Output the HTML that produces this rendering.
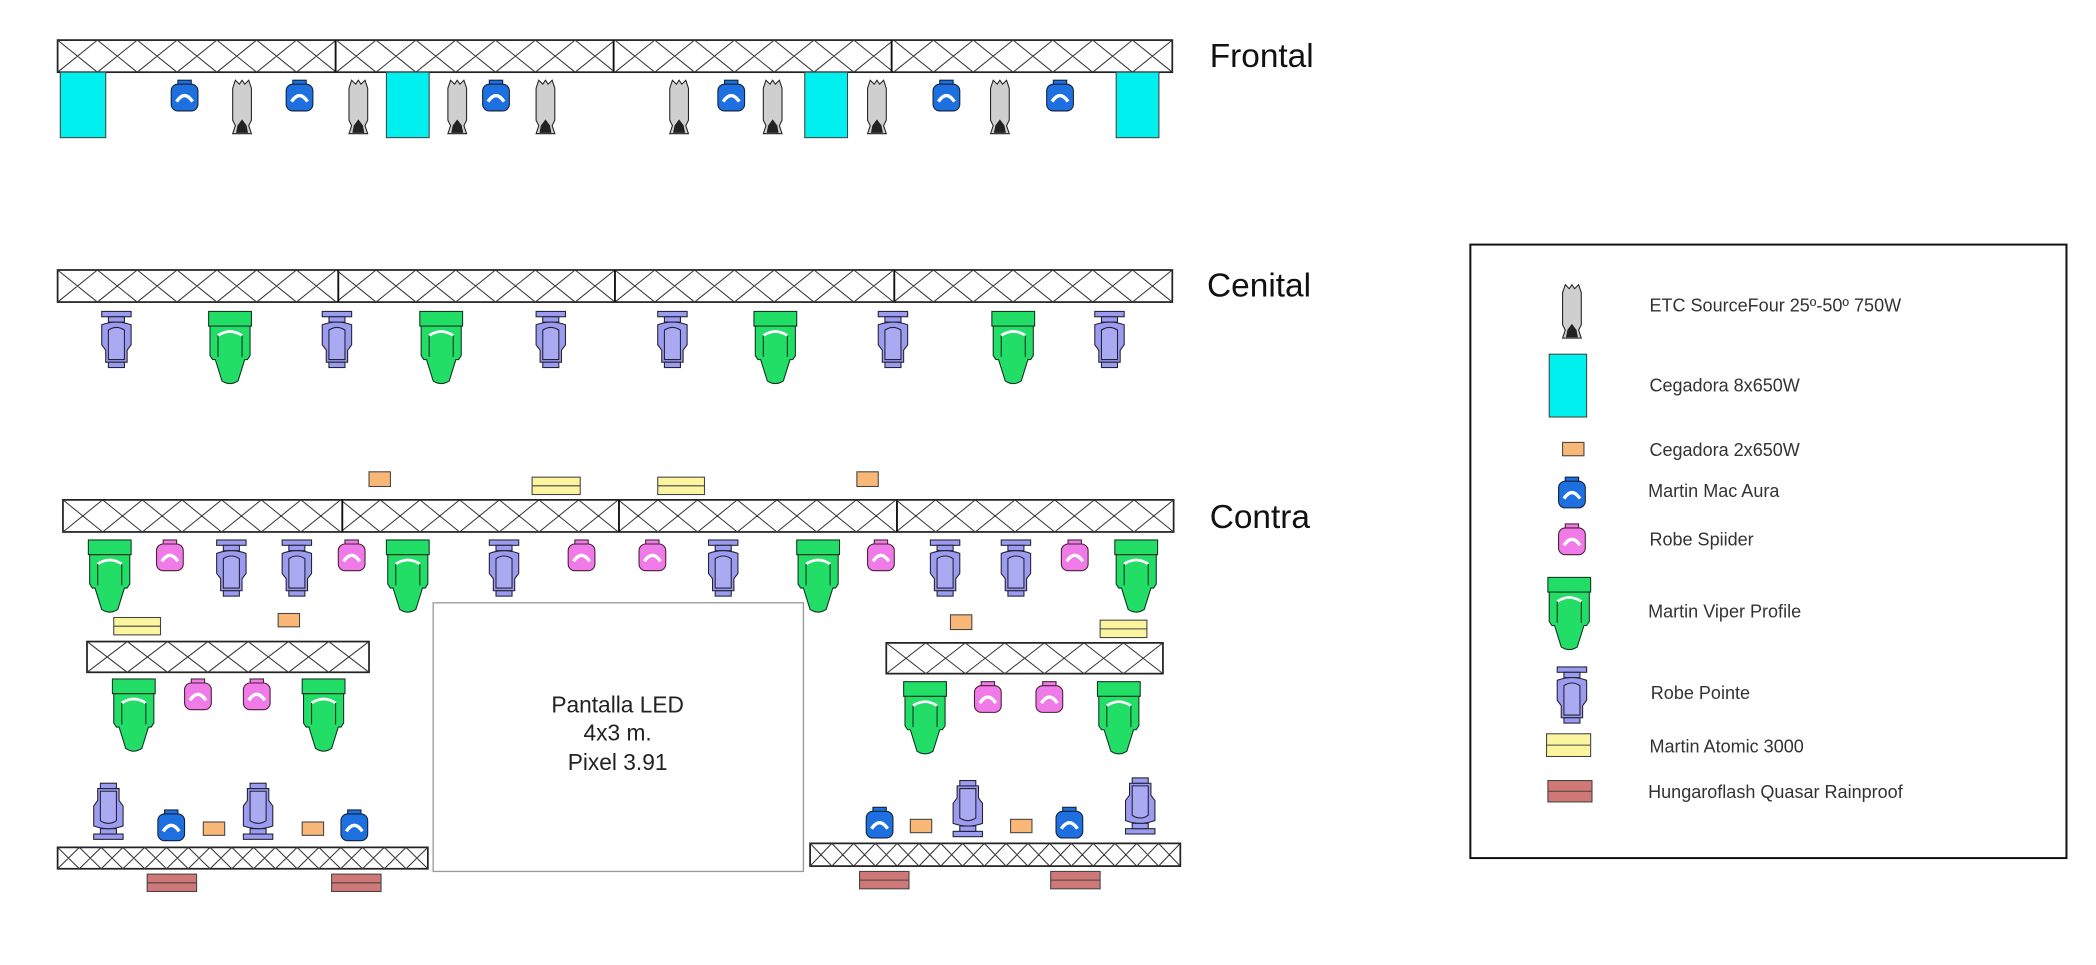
<!DOCTYPE html>
<html><head><meta charset="utf-8"><style>
html,body{margin:0;padding:0;background:#fff;width:2096px;height:965px;overflow:hidden}
svg{display:block}
text{font-family:"Liberation Sans",sans-serif}
</style></head><body>
<svg id="s" width="2096" height="965" viewBox="0 0 1568 722" xmlns="http://www.w3.org/2000/svg">
<defs>
<g id="aura"><rect x="-5" y="0" width="10" height="4" fill="#1e6fe0" stroke="#123" stroke-width="0.8"/><rect x="-10" y="3" width="20" height="20" rx="5" fill="#1e6fe0" stroke="#123" stroke-width="0.8"/><path d="M-6,16 Q0,7 6,16" fill="none" stroke="#fff" stroke-width="2.5"/></g>
<g id="spider"><rect x="-5" y="0" width="10" height="4" fill="#f07ae8" stroke="#423" stroke-width="0.8"/><rect x="-10" y="3" width="20" height="20" rx="5" fill="#f07ae8" stroke="#423" stroke-width="0.8"/><path d="M-6,16 Q0,7 6,16" fill="none" stroke="#fff" stroke-width="2.5"/></g>
<g id="pointe" stroke="#223" stroke-width="0.8" fill="#9b9bef"><rect x="-11" y="0" width="22" height="4"/><rect x="-6" y="4" width="12" height="4"/><path d="M-11,10 Q0,6 11,10 V25 L8,29 V38 H-8 V29 L-11,25 Z"/><path d="M-6,14 Q0,10 6,14 V36 H-6 Z" fill="#aaaaf3"/><rect x="-6" y="38" width="12" height="4"/></g>
<g id="viper" stroke="#132" stroke-width="0.8" fill="#22dd66"><rect x="-16" y="0" width="32" height="11"/><path d="M-15,11 H15 V33 L13,36 H11 L6,52 Q0,56 -6,52 L-11,36 H-13 L-15,33 Z"/><path d="M-9,18 Q0,12 9,18" fill="none" stroke="#fff" stroke-width="2"/><path d="M-9,18 V34 M9,18 V34" stroke="#132" stroke-width="0.8"/></g>
<g id="etc" stroke="#222" stroke-width="0.8" fill="#cfcfcf"><path d="M-5,0 L-2,3 L0,0 L2,3 L5,0 L7,6 V30 L5,34 L7,40 H-7 L-5,34 L-7,30 V6 Z"/><path d="M-3,34 L0,30 L3,34 L4,39 H-4 Z" fill="#222"/></g>
</defs>
<g id="g"></g>
<text x="905" y="50" font-size="25" fill="#111">Frontal</text>
<text x="903" y="222" font-size="25" fill="#111">Cenital</text>
<text x="905" y="395" font-size="25" fill="#111">Contra</text>
<rect x="324" y="451" width="277" height="201" fill="none" stroke="#999" stroke-width="1"/>
<text x="462" y="533" font-size="17" text-anchor="middle" fill="#222">Pantalla LED</text>
<text x="462" y="554" font-size="17" text-anchor="middle" fill="#222">4x3 m.</text>
<text x="462" y="576" font-size="17" text-anchor="middle" fill="#222">Pixel 3.91</text>
<rect x="1100" y="183" width="446" height="459" fill="none" stroke="#111" stroke-width="1.5"/>
<g font-size="13.5" fill="#333">
<text x="1234" y="233">ETC SourceFour 25º-50º 750W</text>
<text x="1234" y="293">Cegadora 8x650W</text>
<text x="1234" y="341">Cegadora 2x650W</text>
<text x="1233" y="372">Martin Mac Aura</text>
<text x="1234" y="408">Robe Spiider</text>
<text x="1233" y="462">Martin Viper Profile</text>
<text x="1235" y="523">Robe Pointe</text>
<text x="1234" y="563">Martin Atomic 3000</text>
<text x="1233" y="597">Hungaroflash Quasar Rainproof</text>
</g>
</svg>
<script>
var G=document.getElementById('g'),NS='http://www.w3.org/2000/svg';
function el(t,a){var e=document.createElementNS(NS,t);for(var k in a)e.setAttribute(k,a[k]);G.appendChild(e);return e;}
function truss(x,y,w,h,cell,divs){var n=Math.round(w/cell),c=w/n,d='';
for(var i=0;i<n;i++){var a=x+i*c;d+='M'+a+','+y+'L'+(a+c)+','+(y+h)+'M'+(a+c)+','+y+'L'+a+','+(y+h);}
el('rect',{x:x,y:y,width:w,height:h,fill:'#fff',stroke:'#222','stroke-width':1.3});
el('path',{d:d,stroke:'#333','stroke-width':0.75,fill:'none'});
(divs||[]).forEach(function(v){el('line',{x1:v,y1:y,x2:v,y2:y+h,stroke:'#111','stroke-width':1.4});});}
function use(id,x,y,flip){var t='translate('+x+','+y+')'+(flip?' scale(1,-1)':'');el('use',{href:'#'+id,transform:t});}
function box(x,y,w,h,f,line){el('rect',{x:x,y:y,width:w,height:h,fill:f,stroke:'#444','stroke-width':0.8});if(line)el('line',{x1:x,y1:y+h/2,x2:x+w,y2:y+h/2,stroke:'#444','stroke-width':0.8});}
truss(43,30,834,24,29.8,[251,459,667]);
[[45,79],[289,321],[602,634],[835,867]].forEach(function(r){box(r[0],54,r[1]-r[0],49,'#00f0f0');});
[[138,'aura'],[181,'etc'],[224,'aura'],[268,'etc'],[342,'etc'],[371,'aura'],[408,'etc'],[508,'etc'],[547,'aura'],[578,'etc'],[656,'etc'],[708,'aura'],[748,'etc'],[793,'aura']].forEach(function(f){use(f[1],f[0],60);});
truss(43,202,834,24,29.8,[253,460,669]);
[[87,'pointe'],[172,'viper'],[252,'pointe'],[330,'viper'],[412,'pointe'],[503,'pointe'],[580,'viper'],[668,'pointe'],[758,'viper'],[830,'pointe']].forEach(function(f){use(f[1],f[0],233);});
box(276,353,16,11,'#f9b878');box(398,357,36,13,'#fbf5a0',1);box(492,357,35,13,'#fbf5a0',1);box(641,353,16,11,'#f9b878');
truss(47,374,831,24,29.7,[256,463,671]);
[[82,'viper'],[127,'spider'],[173,'pointe'],[222,'pointe'],[263,'spider'],[305,'viper'],[377,'pointe'],[435,'spider'],[488,'spider'],[541,'pointe'],[612,'viper'],[659,'spider'],[707,'pointe'],[760,'pointe'],[804,'spider'],[850,'viper']].forEach(function(f){use(f[1],f[0],404);});
box(85,462,35,13,'#fbf5a0',1);box(208,459,16,10,'#f9b878');
truss(65,480,211,23,30,[]);
[[100,'viper'],[148,'spider'],[192,'spider'],[242,'viper']].forEach(function(f){use(f[1],f[0],508);});
box(711,460,16,11,'#f9b878');box(823,464,35,13,'#fbf5a0',1);
truss(663,481,207,23,29.6,[]);
[[692,'viper'],[739,'spider'],[785,'spider'],[837,'viper']].forEach(function(f){use(f[1],f[0],510);});
truss(43,634,277,16,16.3,[]);
use('pointe',81,628,1);use('aura',128,606);box(152,615,16,10,'#f9b878');use('pointe',193,628,1);box(226,615,16,10,'#f9b878');use('aura',265,606);
box(110,654,37,13,'#d07878',1);box(248,654,37,13,'#d07878',1);
truss(606,631,277,17,16.3,[]);
use('aura',658,604);box(681,613,16,10,'#f9b878');use('pointe',724,626,1);box(756,613,16,10,'#f9b878');use('aura',800,604);use('pointe',853,624,1);
box(643,652,37,13,'#d07878',1);box(786,652,37,13,'#d07878',1);
use('etc',1176,213);box(1159,265,28,47,'#00f0f0');box(1169,331,16,10,'#f9b878');use('aura',1176,357);use('spider',1176,392);use('viper',1174,432);use('pointe',1176,499);box(1157,549,33,17,'#fbf5a0',1);box(1158,584,33,16,'#d07878',1);
</script>
</body></html>
